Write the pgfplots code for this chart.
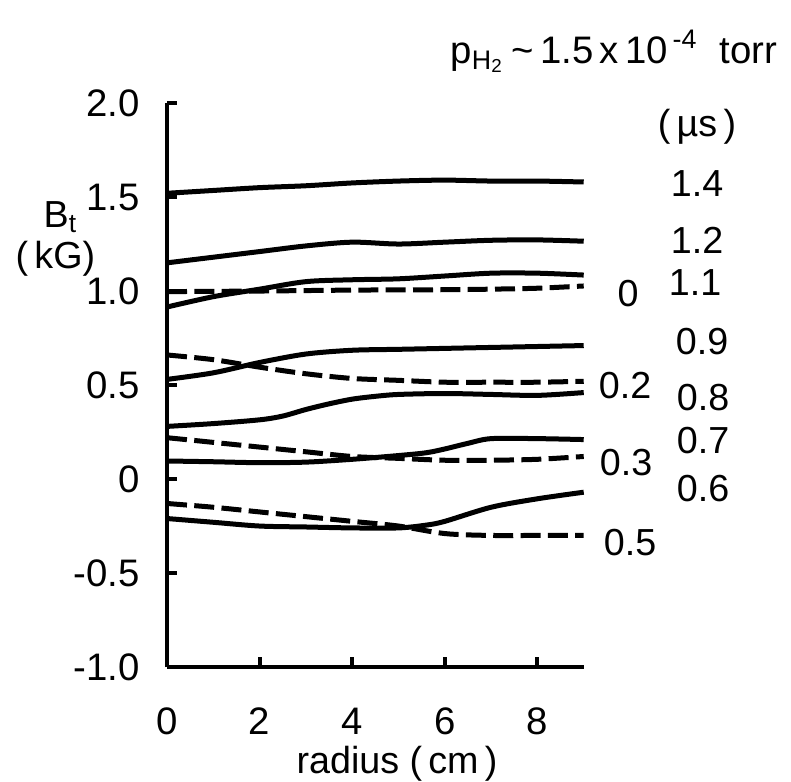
\documentclass[border=0pt]{standalone}
\usepackage{fontspec}
\setmainfont{Liberation Sans}
\usepackage{pgfplots}
\pgfplotsset{compat=1.18}
\begin{document}
\begin{tikzpicture}
\begin{axis}[
 x=13.89pt, y=56.4pt,
 xmin=0, xmax=9, ymin=-1, ymax=2,
 axis lines*=left,
 axis line style={line width=1.2pt},
 clip=false,
 tick align=inside,
 major tick length=3pt,
 tick style={line width=1.2pt, black},
 xtick={0,2,4,6,8}, xticklabels={0,2,4,6,8},
 ytick={-1,-0.5,0,0.5,1,1.5,2}, yticklabels={-1.0,-0.5,0,0.5,1.0,1.5,2.0},
 xticklabel style={font=\fontsize{11.5}{13}\selectfont, inner sep=0pt, anchor=north, yshift=-12pt},
 yticklabel style={font=\fontsize{11.5}{13}\selectfont, inner sep=0pt, anchor=east, xshift=-8pt},
 cycle list={{black, solid, no markers}},
 every axis plot/.append style={line width=1.5pt, black, no markers, smooth, tension=0.5},
 dsh/.style={dash pattern=on 6pt off 2.2pt},
]
% invisible frame fixing the page size
\path (axis cs:-3.607,2.548) rectangle (axis cs:13.477,-1.60);

% 1.4
\addplot[solid] coordinates {(0,1.52) (1,1.535) (2,1.55) (3,1.56) (4,1.575) (5,1.585) (6,1.59) (7,1.585) (8,1.585) (9,1.58)};
% 1.2
\addplot[solid] coordinates {(0,1.15) (1,1.18) (2,1.21) (3,1.24) (4,1.26) (5,1.25) (6,1.26) (7,1.27) (8,1.272) (9,1.265)};
% 1.1
\addplot[solid] coordinates {(0,0.915) (1,0.97) (2,1.01) (3,1.05) (4,1.06) (5,1.065) (6,1.08) (7,1.095) (8,1.095) (9,1.085)};
% 0 (dashed)
\addplot[dsh] coordinates {(0,0.997) (2,1.0) (4,1.005) (6,1.007) (7,1.01) (8,1.015) (9,1.027)};
% 0.9
\addplot[solid] coordinates {(0,0.53) (1,0.565) (2,0.62) (3,0.665) (4,0.685) (5,0.69) (6,0.695) (7,0.70) (8,0.705) (9,0.71)};
% 0.2 (dashed)
\addplot[dsh] coordinates {(0,0.66) (1,0.635) (2,0.595) (3,0.56) (4,0.535) (5,0.525) (6,0.515) (7,0.515) (8,0.515) (9,0.52)};
% 0.8
\addplot[solid] coordinates {(0,0.28) (1,0.295) (2,0.315) (2.5,0.335) (3,0.37) (3.5,0.40) (4,0.425) (4.5,0.44) (5,0.45) (6,0.455) (7,0.45) (8,0.445) (9,0.46)};
% 0.3 (dashed)
\addplot[dsh] coordinates {(0,0.22) (1,0.195) (2,0.17) (3,0.145) (4,0.12) (5,0.11) (6,0.10) (7,0.10) (8,0.105) (9,0.12)};
% 0.7
\addplot[solid] coordinates {(0,0.096) (1,0.092) (2,0.087) (3,0.09) (4,0.105) (5,0.125) (5.6,0.14) (6,0.16) (6.5,0.19) (7,0.215) (8,0.215) (9,0.21)};
% 0.5 (dashed)
\addplot[dsh] coordinates {(0,-0.13) (1,-0.15) (2,-0.175) (3,-0.2) (4,-0.225) (5,-0.25) (6,-0.29) (7,-0.3) (8,-0.3) (9,-0.30)};
% 0.6
\addplot[solid] coordinates {(0,-0.21) (1,-0.23) (2,-0.25) (3,-0.255) (4,-0.26) (5,-0.26) (5.6,-0.245) (6,-0.225) (7,-0.15) (8,-0.105) (9,-0.07)};

% curve labels
\begin{scope}[every node/.style={font=\fontsize{11.3}{13}\selectfont, inner sep=0pt, anchor=center}]
\node at (axis cs:11.447,1.872) {(\,µs\,)};
\node at (axis cs:11.447,1.574) {1.4};
\node at (axis cs:11.447,1.271) {1.2};
\node at (axis cs:11.404,1.043) {1.1};
\node at (axis cs:9.957,0.989) {0};
\node at (axis cs:11.555,0.729) {0.9};
\node at (axis cs:9.892,0.500) {0.2};
\node at (axis cs:11.577,0.431) {0.8};
\node at (axis cs:11.577,0.207) {0.7};
\node at (axis cs:9.914,0.090) {0.3};
\node at (axis cs:11.577,-0.048) {0.6};
\node at (axis cs:10.0,-0.340) {0.5};
% axis labels
\node[anchor=base west] at (axis cs:-2.678,1.340) {B\textsubscript{t}};
\node[anchor=base west] at (axis cs:-3.283,1.122) {(\,kG)};
\node[anchor=base] at (axis cs:4.968,-1.565) {radius (\,cm\,)};
\end{scope}
\node[font=\fontsize{11.5}{13}\selectfont, inner sep=0pt, anchor=base west] at (axis cs:6.112,2.2128)
 {p\textsubscript{H\textsubscript{2}}\,\textasciitilde\,1.5\,x\,10\textsuperscript{\,-4}\ \ torr};
\end{axis}
\end{tikzpicture}
\end{document}
